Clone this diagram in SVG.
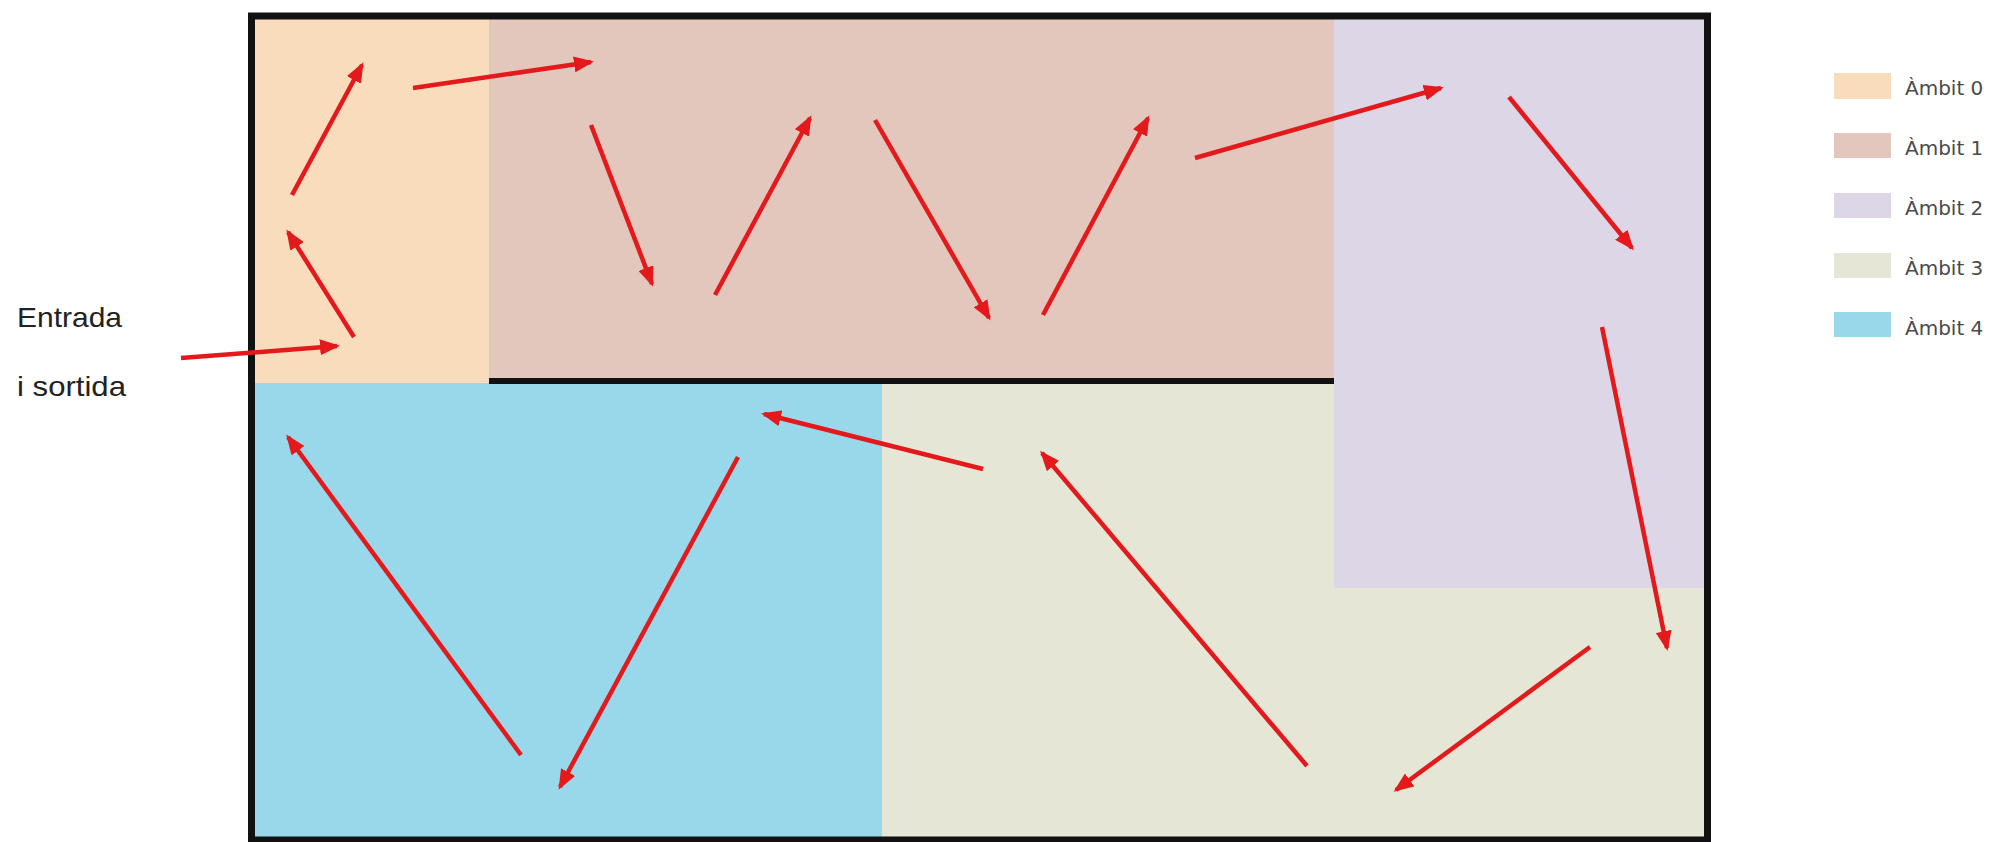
<svg xmlns="http://www.w3.org/2000/svg" width="1993" height="842" viewBox="0 0 1993 842">
  <style>
    .z0 { fill: #F8DCBC; }
    .z1 { fill: #E4C7BC; }
    .z2 { fill: #DCD6E6; }
    .z3 { fill: #E5E6D6; }
    .z4 { fill: #99D8EA; }
    .wall { fill: none; stroke: #111; stroke-width: 7; }
    .route { fill: none; stroke: #E3191C; stroke-width: 4.5; marker-end: url(#head); }
    .label { font-family: "Liberation Sans", Arial, sans-serif; font-size: 28px; fill: #222; }
    .key { font-family: "DejaVu Sans", "Liberation Sans", sans-serif; font-size: 20px; fill: #4a4a4a; }
  </style>
  <defs>
    <marker id="head" markerUnits="userSpaceOnUse" markerWidth="20" markerHeight="16" refX="17" refY="8" orient="auto">
      <path d="M0,0 L20,8 L0,16 z" fill="#E3191C"/>
    </marker>
  </defs>

  <rect width="1993" height="842" fill="#fff"/>

  <!-- zones -->
  <g id="ambit3"><rect class="z3" x="882" y="381" width="823" height="458"/></g>
  <g id="ambit4"><rect class="z4" x="255" y="383" width="627" height="456"/></g>
  <g id="ambit0"><rect class="z0" x="255" y="18" width="234" height="365"/></g>
  <g id="ambit1"><rect class="z1" x="489" y="18" width="845" height="360"/></g>
  <g id="ambit2"><rect class="z2" x="1334" y="18" width="371" height="570"/></g>

  <!-- walls -->
  <g id="walls">
    <rect class="wall" x="251.5" y="16" width="1456" height="824"/>
    <line x1="489" y1="381" x2="1334" y2="381" stroke="#111" stroke-width="6"/>
  </g>

  <!-- route -->
  <g id="connectors">
    <line class="route" x1="181" y1="358" x2="337" y2="346"/>
    <line class="route" x1="354" y1="337" x2="288" y2="232"/>
    <line class="route" x1="292" y1="195" x2="362" y2="65"/>
    <line class="route" x1="413" y1="88" x2="591" y2="62"/>
    <line class="route" x1="591" y1="125" x2="652" y2="284"/>
    <line class="route" x1="715" y1="295" x2="810" y2="118"/>
    <line class="route" x1="875" y1="120" x2="989" y2="318"/>
    <line class="route" x1="1043" y1="315" x2="1148" y2="118"/>
    <line class="route" x1="1195" y1="158" x2="1441" y2="88"/>
    <line class="route" x1="1509" y1="97" x2="1632" y2="248"/>
    <line class="route" x1="1602" y1="327" x2="1667" y2="648"/>
    <line class="route" x1="1590" y1="647" x2="1396" y2="790"/>
    <line class="route" x1="1307" y1="766" x2="1042" y2="453"/>
    <line class="route" x1="983" y1="469" x2="764" y2="414"/>
    <line class="route" x1="738" y1="457" x2="560" y2="787"/>
    <line class="route" x1="521" y1="755" x2="288" y2="437"/>
  </g>

  <g id="entrance">
    <text class="label" x="17" y="327" textLength="105" lengthAdjust="spacingAndGlyphs">Entrada</text>
    <text class="label" x="17" y="396" textLength="109" lengthAdjust="spacingAndGlyphs">i sortida</text>
  </g>

  <!-- legend -->
  <g id="legend">
    <rect class="z0" x="1834" y="73" width="57" height="26"/>
    <text class="key" x="1905" y="95">Àmbit 0</text>
    <rect class="z1" x="1834" y="133" width="57" height="25"/>
    <text class="key" x="1905" y="155">Àmbit 1</text>
    <rect class="z2" x="1834" y="193" width="57" height="25"/>
    <text class="key" x="1905" y="215">Àmbit 2</text>
    <rect class="z3" x="1834" y="253" width="57" height="25"/>
    <text class="key" x="1905" y="275">Àmbit 3</text>
    <rect class="z4" x="1834" y="312" width="57" height="25"/>
    <text class="key" x="1905" y="335">Àmbit 4</text>
  </g>
</svg>
